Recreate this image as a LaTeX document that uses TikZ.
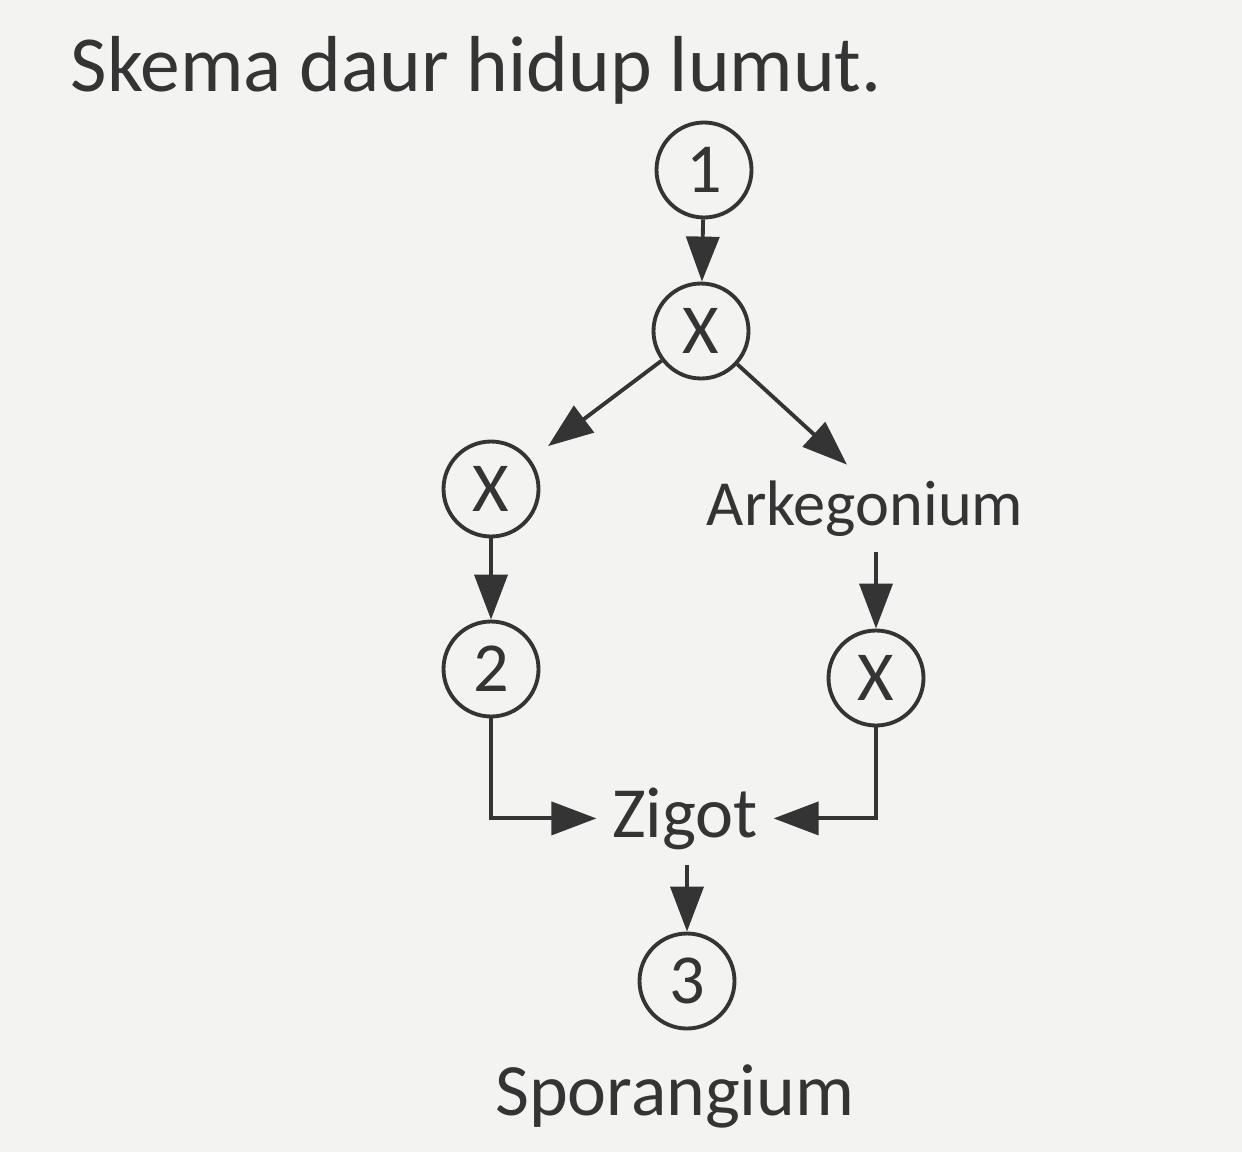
\documentclass[tikz,border=0pt]{standalone}
\usepackage{fontspec}
\setmainfont{Carlito}
\usepackage{xcolor}
\usetikzlibrary{arrows.meta,calc,positioning}
\definecolor{ink}{HTML}{343434}
\definecolor{paper}{HTML}{F3F3F1}

\begin{document}
\begin{tikzpicture}[font=\fontsize{20.5}{24}\selectfont,>={Triangle[length=0.45cm,width=0.33cm]},color=ink]
    \tikzset{
      stage/.style={draw, circle, line width=1.1pt, minimum size=0.95cm, inner sep=0pt, font=\fontsize{20}{22}\selectfont},
      word/.style={inner sep=0.15cm, anchor=base},
      arrow/.style={->, line width=1.1pt}
    }
    \fill[paper] (0,0) rectangle (12.42,-11.52);
    \useasboundingbox (0,0) rectangle (12.42,-11.52);
    \node[anchor=base west, inner sep=0pt] (title) at (0.70,-0.92) {\fontsize{22.6}{26}\selectfont Skema daur hidup lumut.};
    \node[stage] (one) at (7.04,-1.70) {1};
    \node[stage] (xtop) at (7.01,-3.31) {X};
    \node[stage] (xleft) at (4.91,-4.89) {X};
    \node[word, font=\fontsize{18.3}{22}\selectfont] (arke) at (8.65,-5.25) {Arkegonium};
    \node[stage] (two) at (4.91,-6.69) {2};
    \node[stage] (xright) at (8.76,-6.78) {X};
    \node[word] (zigot) at (6.85,-8.37) {Zigot};
    \node[stage] (three) at (6.87,-9.81) {3};
    \node[word, font=\fontsize{21}{24}\selectfont] (spor) at (6.75,-11.15) {Sporangium};
    \draw[arrow] (one) -- (xtop);
    \draw[arrow, shorten >=0.22cm] (xtop) -- (xleft);
    \draw[arrow] (xtop) -- ([xshift=-0.18cm]arke.north);
    \draw[arrow] (arke.south -| xright) -- (xright);
    \draw[arrow] (xleft) -- (two);
    \draw[arrow] (two.south) |- (zigot.west);
    \draw[arrow] (xright.south) |- (zigot.east);
    \draw[arrow] (zigot.south -| three) -- (three);
  \end{tikzpicture}
\end{document}
